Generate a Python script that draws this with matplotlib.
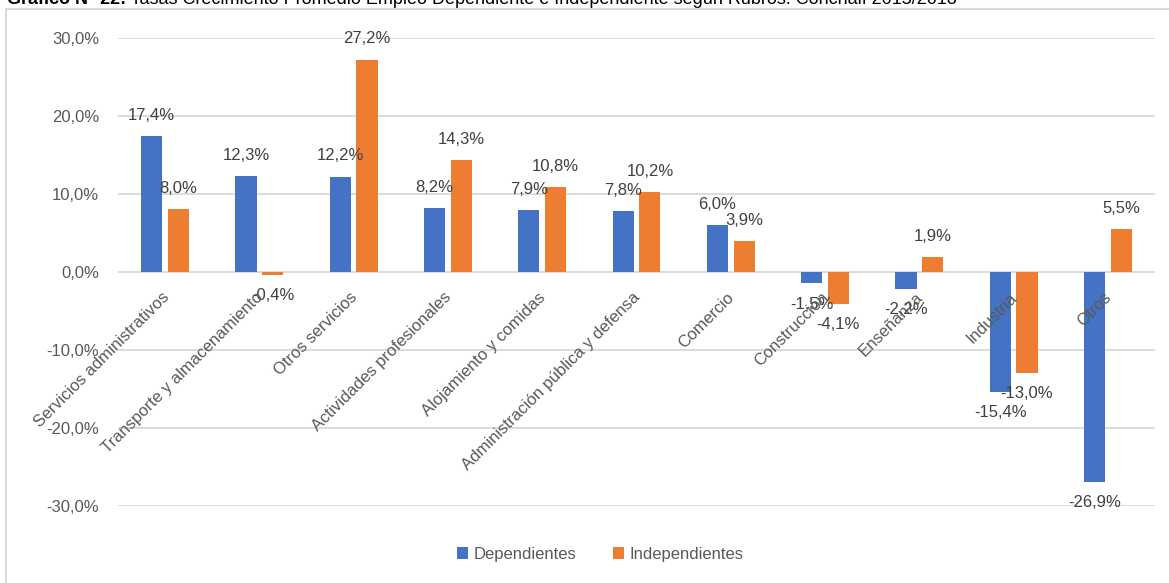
import matplotlib.pyplot as plt
import matplotlib.transforms as mtransforms
from matplotlib.patches import Rectangle
import numpy as np

plt.rcParams['font.family'] = ['Liberation Sans', 'DejaVu Sans']

rubros = ['Servicios administrativos', 'Transporte y almacenamiento', 'Otros servicios',
          'Actividades profesionales', 'Alojamiento y comidas', 'Administración pública y defensa',
          'Comercio', 'Construcción', 'Enseñanza', 'Industria', 'Otros']
dependientes = [17.4, 12.3, 12.2, 8.2, 7.9, 7.8, 6.0, -1.5, -2.2, -15.4, -26.9]
independientes = [8.0, -0.4, 27.2, 14.3, 10.8, 10.2, 3.9, -4.1, 1.9, -13.0, 5.5]
yticks = [-30, -20, -10, 0, 10, 20, 30]

W, H = 1169, 583
fig = plt.figure(figsize=(W / 100, H / 100), dpi=100)
ax = fig.add_axes([118 / W, 1 - 505.7 / H, (1155 - 118) / W, (505.7 - 37.7) / H])

# marco del gráfico (solo se ven borde izquierdo y superior)
fig.patches.append(Rectangle((6 / W, -0.1), 1.2, 1.1 - 9.5 / H, transform=fig.transFigure,
                             fill=False, edgecolor='#D9D9D9', linewidth=1.5))

x = np.arange(len(rubros))
w = 0.225
off = 0.142
b1 = ax.bar(x - off, dependientes, w, color='#4472C4', label='Dependientes', zorder=3)
b2 = ax.bar(x + off, independientes, w, color='#ED7D31', label='Independientes', zorder=3)

fmt = lambda v: f'{v:.1f}%'.replace('.', ',')
ax.bar_label(b1, labels=[fmt(v) for v in dependientes], padding=9.5, fontsize=12, color='#404040')
ax.bar_label(b2, labels=[fmt(v) for v in independientes], padding=9.5, fontsize=12, color='#404040')

ax.set_xlim(-0.5, len(rubros) - 0.5)
ax.set_ylim(-30, 30)
ax.set_yticks(yticks)
ax.set_yticklabels([f'{t:.1f}%'.replace('.', ',') for t in yticks], fontsize=12, color='#595959')
ax.tick_params(axis='y', length=0, pad=13.5)
ax.set_xticks([])
ax.grid(axis='y', color='#D9D9D9', linewidth=1.3, zorder=0)
for s in ax.spines.values():
    s.set_visible(False)

# etiquetas de categoría rotadas junto al eje 0
shift = mtransforms.offset_copy(ax.transData, fig=fig, x=-4, y=-18, units='dots')
for i, r in enumerate(rubros):
    ax.text(i, 0, r, rotation=45, ha='right', va='top', rotation_mode='anchor',
            fontsize=12, color='#595959', transform=shift, zorder=4)

leg = fig.legend(handles=[b1, b2], loc='center', bbox_to_anchor=(600 / W, 1 - 554 / H),
                 ncol=2, frameon=False, fontsize=12, handlelength=0.7, handleheight=0.7,
                 handletextpad=0.3, columnspacing=2.2)
for t in leg.get_texts():
    t.set_color('#595959')

# título (recortado en la parte superior)
t1 = fig.text(7 / W, 1 - 4 / H, 'Gráfico N° 22:', fontsize=13, fontweight='bold', va='baseline')
fig.canvas.draw()
ax.annotate(' Tasas Crecimiento Promedio Empleo Dependiente e Independiente según Rubros. Conchalí 2015/2018',
            xy=(1, 0), xycoords=t1, va='bottom', fontsize=13, annotation_clip=False)

fig.savefig('out.png', dpi=100)
